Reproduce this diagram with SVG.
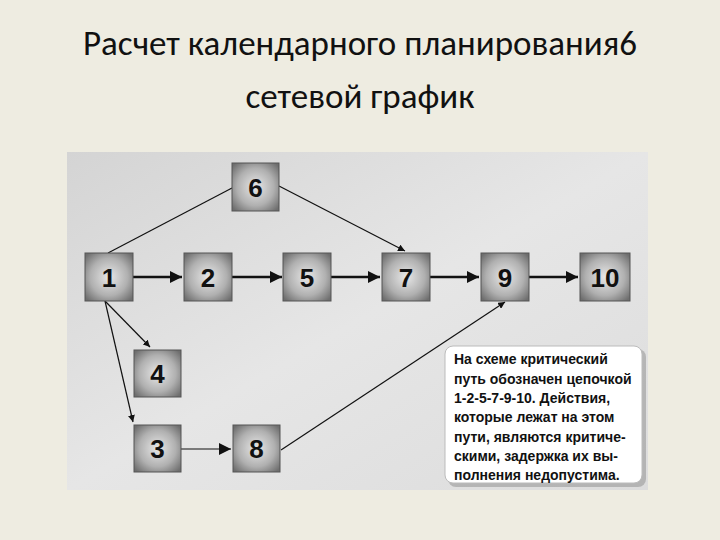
<svg xmlns="http://www.w3.org/2000/svg" width="720" height="540" viewBox="0 0 720 540">
<defs>
<radialGradient id="ng" cx="50%" cy="50%" r="65%"><stop offset="0" stop-color="#e8e8e8"/><stop offset="0.6" stop-color="#b0b0b0"/><stop offset="1" stop-color="#6e6e6e"/></radialGradient>
<linearGradient id="pg" x1="0" y1="0" x2="1" y2="1"><stop offset="0" stop-color="#d4d4d4"/><stop offset="0.5" stop-color="#e6e6e6"/><stop offset="1" stop-color="#dcdcdc"/></linearGradient>
<marker id="ar" viewBox="0 0 10 10" refX="10" refY="5" markerWidth="7" markerHeight="7" orient="auto" markerUnits="userSpaceOnUse"><path d="M0,0L10,5L0,10z" fill="#111"/></marker>
<marker id="ab" viewBox="0 0 10 10" refX="10" refY="5" markerWidth="12" markerHeight="12" orient="auto" markerUnits="userSpaceOnUse"><path d="M0,0L10,5L0,10z" fill="#111"/></marker>
</defs>
<style>
.n rect{fill:url(#ng);stroke:#555;stroke-width:1}
.n text{font-family:"Liberation Sans",Arial,sans-serif;font-weight:bold;font-size:26px;fill:#111;text-anchor:middle}
.e line{stroke:#111;stroke-width:1.2}
.e .t{stroke-width:2.5}
.tb{font-family:"Liberation Sans",Arial,sans-serif;font-weight:bold;font-size:14px;fill:#111}
.ti{font-family:Calibri,Carlito,"Liberation Sans",sans-serif;font-size:35px;fill:#111;text-anchor:middle}
</style>
<rect width="720" height="540" fill="#eeece1"/>
<text class="ti" x="360" y="55">Расчет календарного планирования6</text>
<text class="ti" x="360" y="108">сетевой график</text>
<rect x="67" y="152" width="581" height="338" fill="url(#pg)"/>
<g class="e">
<line class="t" x1="133" y1="277" x2="182" y2="277" marker-end="url(#ab)"/>
<line class="t" x1="232" y1="277" x2="282" y2="277" marker-end="url(#ab)"/>
<line class="t" x1="331" y1="277" x2="380" y2="277" marker-end="url(#ab)"/>
<line class="t" x1="430" y1="277" x2="479" y2="277" marker-end="url(#ab)"/>
<line class="t" x1="528" y1="277" x2="578" y2="277" marker-end="url(#ab)"/>
<line x1="108" y1="253" x2="232" y2="188"/>
<line x1="279" y1="186" x2="405" y2="251" marker-end="url(#ar)"/>
<line x1="105" y1="301" x2="150" y2="347" marker-end="url(#ar)"/>
<line x1="105" y1="301" x2="133" y2="422" marker-end="url(#ar)"/>
<line x1="180" y1="449" x2="231" y2="449" marker-end="url(#ab)"/>
<line x1="281" y1="450" x2="505" y2="302" marker-end="url(#ar)"/>
</g>
<g id="n6" class="n"><rect x="232" y="163" width="47" height="48"/><text x="255.5" y="197">6</text></g>
<g id="n1" class="n"><rect x="85" y="253" width="48" height="48"/><text x="109" y="287">1</text></g>
<g id="n2" class="n"><rect x="184" y="253" width="48" height="48"/><text x="208" y="287">2</text></g>
<g id="n5" class="n"><rect x="283" y="253" width="48" height="48"/><text x="307" y="287">5</text></g>
<g id="n7" class="n"><rect x="382" y="253" width="48" height="48"/><text x="406" y="287">7</text></g>
<g id="n9" class="n"><rect x="481" y="253" width="48" height="48"/><text x="505" y="287">9</text></g>
<g id="n10" class="n"><rect x="580" y="253" width="50" height="48"/><text x="605" y="287">10</text></g>
<g id="n4" class="n"><rect x="134" y="350" width="47" height="47"/><text x="157.5" y="383">4</text></g>
<g id="n3" class="n"><rect x="134" y="425" width="47" height="47"/><text x="157.5" y="458">3</text></g>
<g id="n8" class="n"><rect x="233" y="425" width="47" height="47"/><text x="256.5" y="458">8</text></g>
<g id="note">
<rect x="448" y="349" width="198" height="138" rx="8" fill="#999" opacity="0.6"/>
<rect x="445" y="346" width="197" height="137" rx="8" fill="#fff" stroke="#bbb"/>
<text class="tb"><tspan x="454" y="364">На схеме критический</tspan><tspan x="454" y="384">путь обозначен цепочкой</tspan><tspan x="454" y="403">1-2-5-7-9-10. Действия,</tspan><tspan x="454" y="422">которые лежат на этом</tspan><tspan x="454" y="442">пути, являются критиче-</tspan><tspan x="454" y="461">скими, задержка их вы-</tspan><tspan x="454" y="480">полнения недопустима.</tspan></text>
</g>
</svg>
